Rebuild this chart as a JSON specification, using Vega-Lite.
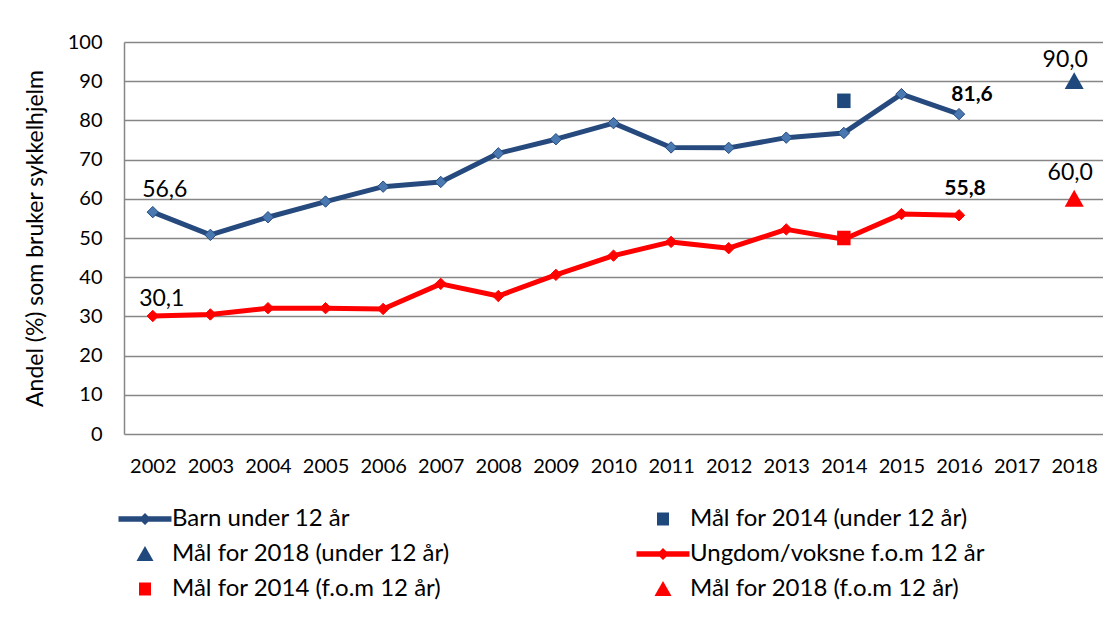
{
  "$schema": "https://vega.github.io/schema/vega-lite/v6.json",
  "width": 979,
  "height": 392,
  "autosize": {"type": "none"},
  "padding": {"left": 124, "top": 42, "right": 0, "bottom": 185},
  "background": "white",
  "datasets": {
    "series": [
      {"year": "2002", "value": 56.6, "series": "Barn under 12 år", "label": "56,6"},
      {"year": "2003", "value": 50.8, "series": "Barn under 12 år"},
      {"year": "2004", "value": 55.3, "series": "Barn under 12 år"},
      {"year": "2005", "value": 59.3, "series": "Barn under 12 år"},
      {"year": "2006", "value": 63.1, "series": "Barn under 12 år"},
      {"year": "2007", "value": 64.3, "series": "Barn under 12 år"},
      {"year": "2008", "value": 71.6, "series": "Barn under 12 år"},
      {"year": "2009", "value": 75.2, "series": "Barn under 12 år"},
      {"year": "2010", "value": 79.3, "series": "Barn under 12 år"},
      {"year": "2011", "value": 73.1, "series": "Barn under 12 år"},
      {"year": "2012", "value": 73.0, "series": "Barn under 12 år"},
      {"year": "2013", "value": 75.6, "series": "Barn under 12 år"},
      {"year": "2014", "value": 76.8, "series": "Barn under 12 år"},
      {"year": "2015", "value": 86.7, "series": "Barn under 12 år"},
      {"year": "2016", "value": 81.6, "series": "Barn under 12 år", "label": "81,6"},
      {"year": "2002", "value": 30.1, "series": "Ungdom/voksne f.o.m 12 år", "label": "30,1"},
      {"year": "2003", "value": 30.5, "series": "Ungdom/voksne f.o.m 12 år"},
      {"year": "2004", "value": 32.1, "series": "Ungdom/voksne f.o.m 12 år"},
      {"year": "2005", "value": 32.1, "series": "Ungdom/voksne f.o.m 12 år"},
      {"year": "2006", "value": 31.9, "series": "Ungdom/voksne f.o.m 12 år"},
      {"year": "2007", "value": 38.3, "series": "Ungdom/voksne f.o.m 12 år"},
      {"year": "2008", "value": 35.2, "series": "Ungdom/voksne f.o.m 12 år"},
      {"year": "2009", "value": 40.6, "series": "Ungdom/voksne f.o.m 12 år"},
      {"year": "2010", "value": 45.5, "series": "Ungdom/voksne f.o.m 12 år"},
      {"year": "2011", "value": 49.0, "series": "Ungdom/voksne f.o.m 12 år"},
      {"year": "2012", "value": 47.4, "series": "Ungdom/voksne f.o.m 12 år"},
      {"year": "2013", "value": 52.2, "series": "Ungdom/voksne f.o.m 12 år"},
      {"year": "2014", "value": 49.7, "series": "Ungdom/voksne f.o.m 12 år"},
      {"year": "2015", "value": 56.1, "series": "Ungdom/voksne f.o.m 12 år"},
      {"year": "2016", "value": 55.8, "series": "Ungdom/voksne f.o.m 12 år", "label": "55,8"}
    ],
    "targets": [
      {"year": "2014", "value": 85, "key": "Mål for 2014 (under 12 år)"},
      {"year": "2018", "value": 90, "key": "Mål for 2018 (under 12 år)", "label": "90,0"},
      {"year": "2014", "value": 50, "key": "Mål for 2014 (f.o.m 12 år)"},
      {"year": "2018", "value": 60, "key": "Mål for 2018 (f.o.m 12 år)", "label": "60,0"}
    ]
  },
  "config": {
    "view": {"stroke": null},
    "font": "Lato",
    "axis": {
      "labelFont": "Lato",
      "titleFont": "Lato",
      "labelColor": "black",
      "titleColor": "black",
      "labelFontSize": 20,
      "titleFontSize": 23,
      "titleFontWeight": "normal"
    },
    "legend": {
      "orient": "none",
      "direction": "horizontal",
      "legendX": 9,
      "legendY": 465,
      "columns": 2,
      "columnPadding": 185,
      "rowPadding": 11,
      "symbolSize": 400,
      "symbolStrokeWidth": 0,
      "symbolOpacity": 1,
      "labelFont": "Lato",
      "labelFontSize": 24,
      "labelColor": "black",
      "labelOffset": 15,
      "labelLimit": 500,
      "padding": 0,
      "symbolOffset": 0
    }
  },
  "encoding": {
    "x": {
      "field": "year",
      "type": "ordinal",
      "scale": {
        "type": "point",
        "padding": 0.5,
        "domain": ["2002","2003","2004","2005","2006","2007","2008","2009","2010","2011","2012","2013","2014","2015","2016","2017","2018"]
      },
      "axis": {
        "title": null,
        "labelAngle": 0,
        "ticks": false,
        "domain": false,
        "grid": false,
        "labelPadding": 22,
        "labelBaseline": "top"
      }
    },
    "y": {
      "field": "value",
      "type": "quantitative",
      "scale": {"domain": [0, 100], "nice": false},
      "axis": {
        "title": "Andel (%) som bruker sykkelhjelm",
        "values": [0, 10, 20, 30, 40, 50, 60, 70, 80, 90, 100],
        "ticks": false,
        "domain": true,
        "domainColor": "#868686",
        "domainWidth": 1.5,
        "grid": true,
        "gridColor": "#868686",
        "gridWidth": 1.5,
        "labelPadding": 22,
        "titleX": -89,
        "titleY": 196,
        "titleAngle": -90,
        "titleAlign": "center",
        "titleBaseline": "middle"
      }
    }
  },
  "layer": [
    {
      "data": {"name": "series"},
      "mark": {"type": "line", "strokeWidth": 5, "strokeJoin": "round"},
      "encoding": {
        "stroke": {
          "field": "series",
          "type": "nominal",
          "scale": {"domain": ["Barn under 12 år", "Ungdom/voksne f.o.m 12 år"], "range": ["#264A7E", "#FF0000"]},
          "legend": null
        }
      }
    },
    {
      "data": {"name": "series"},
      "mark": {"type": "point", "shape": "diamond", "filled": true, "size": 130, "opacity": 1, "strokeWidth": 1},
      "encoding": {
        "fill": {
          "field": "series",
          "type": "nominal",
          "scale": {"domain": ["Barn under 12 år", "Ungdom/voksne f.o.m 12 år"], "range": ["#4A78B0", "#FF0000"]},
          "legend": null
        },
        "stroke": {"field": "series", "type": "nominal", "legend": null}
      }
    },
    {
      "data": {"name": "targets"},
      "mark": {"type": "point", "filled": true, "size": 500, "opacity": 1, "strokeWidth": 0},
      "encoding": {
        "color": {
          "field": "key",
          "type": "nominal",
          "scale": {
            "domain": ["Barn under 12 år", "Mål for 2014 (under 12 år)", "Mål for 2018 (under 12 år)", "Ungdom/voksne f.o.m 12 år", "Mål for 2014 (f.o.m 12 år)", "Mål for 2018 (f.o.m 12 år)"],
            "range": ["#264A7E", "#1F497D", "#1F497D", "#FF0000", "#FF0000", "#FF0000"]
          },
          "legend": {"title": null}
        },
        "shape": {
          "field": "key",
          "type": "nominal",
          "scale": {
            "domain": ["Barn under 12 år", "Mål for 2014 (under 12 år)", "Mål for 2018 (under 12 år)", "Ungdom/voksne f.o.m 12 år", "Mål for 2014 (f.o.m 12 år)", "Mål for 2018 (f.o.m 12 år)"],
            "range": [
              "M-2.65,-0.28H2.65V0.28H-2.65Z M0,-0.6L0.6,0L0,0.6L-0.6,0Z",
              "M-0.6,-0.65H0.6V0.65H-0.6Z",
              "M0,-0.8L0.85,0.7H-0.85Z",
              "M-2.65,-0.28H2.65V0.28H-2.65Z M0,-0.6L0.6,0L0,0.6L-0.6,0Z",
              "M-0.6,-0.65H0.6V0.65H-0.6Z",
              "M0,-0.8L0.85,0.7H-0.85Z"
            ]
          },
          "legend": {"title": null}
        }
      }
    },
    {
      "data": {"name": "series"},
      "transform": [{"filter": "datum.label == '56,6'"}],
      "mark": {"type": "text", "fontSize": 23, "font": "Lato", "color": "black", "dx": 12, "dy": -22, "align": "center", "baseline": "middle"},
      "encoding": {"text": {"field": "label"}}
    },
    {
      "data": {"name": "series"},
      "transform": [{"filter": "datum.label == '30,1'"}],
      "mark": {"type": "text", "fontSize": 23, "font": "Lato", "color": "black", "dx": 9, "dy": -17, "align": "center", "baseline": "middle"},
      "encoding": {"text": {"field": "label"}}
    },
    {
      "data": {"name": "series"},
      "transform": [{"filter": "datum.label == '81,6'"}],
      "mark": {"type": "text", "fontSize": 21, "font": "Lato", "fontWeight": "bold", "color": "black", "dx": 13, "dy": -19, "align": "center", "baseline": "middle"},
      "encoding": {"text": {"field": "label"}}
    },
    {
      "data": {"name": "series"},
      "transform": [{"filter": "datum.label == '55,8'"}],
      "mark": {"type": "text", "fontSize": 21, "font": "Lato", "fontWeight": "bold", "color": "black", "dx": 6, "dy": -26, "align": "center", "baseline": "middle"},
      "encoding": {"text": {"field": "label"}}
    },
    {
      "data": {"name": "targets"},
      "transform": [{"filter": "datum.label == '90,0'"}],
      "mark": {"type": "text", "fontSize": 23, "font": "Lato", "color": "black", "dx": -9, "dy": -21, "align": "center", "baseline": "middle"},
      "encoding": {"text": {"field": "label"}}
    },
    {
      "data": {"name": "targets"},
      "transform": [{"filter": "datum.label == '60,0'"}],
      "mark": {"type": "text", "fontSize": 23, "font": "Lato", "color": "black", "dx": -4, "dy": -26, "align": "center", "baseline": "middle"},
      "encoding": {"text": {"field": "label"}}
    }
  ]
}
